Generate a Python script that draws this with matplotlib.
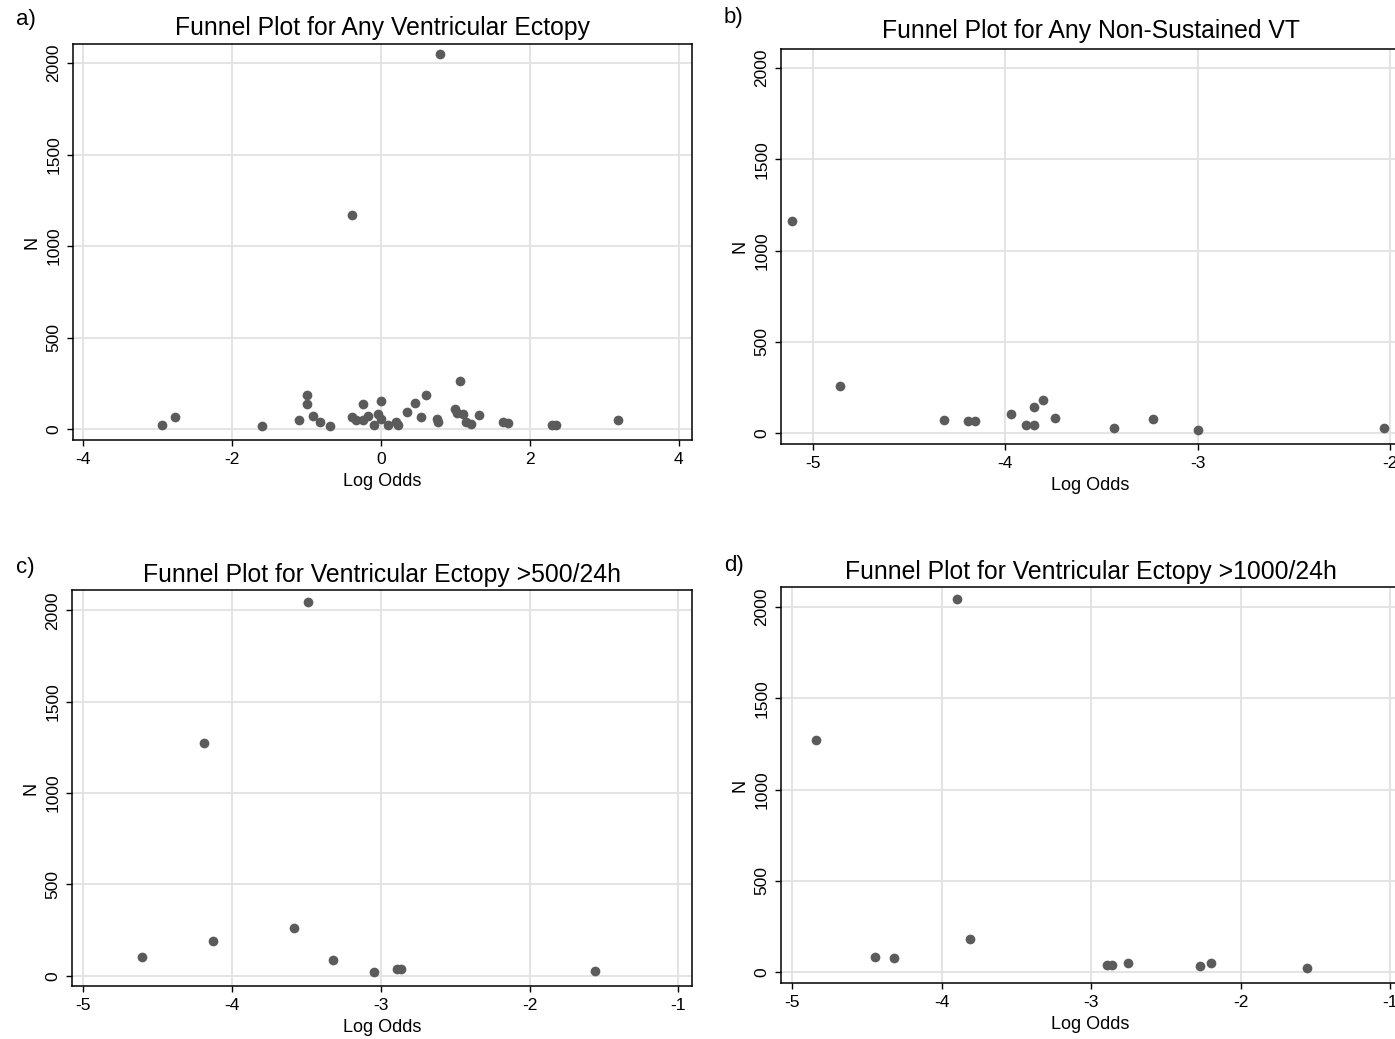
import matplotlib
matplotlib.use("Agg")
import matplotlib.pyplot as plt

plt.rcParams['font.family'] = ['Liberation Sans', 'DejaVu Sans']
plt.rcParams['axes.unicode_minus'] = False

# ---------------- data ----------------
a_logodds = [-2.94, -2.77, -1.60, -1.10, -1.00, -1.00, -0.91, -0.82, -0.69, -0.39,
             -0.34, -0.24, -0.24, -0.17, -0.04, 0.00, -0.10, 0.00, 0.10, 0.20,
             0.23, 0.35, 0.45, 0.54, 0.60, 0.75, 0.77, 1.00, 1.02, 1.06,
             1.10, 1.14, 1.21, 1.32, 1.64, 1.70, 2.30, 2.35, 3.18, 0.79, -0.39]
a_n = [20, 68, 18, 47, 188, 137, 69, 38, 16, 68,
       49, 135, 49, 71, 84, 153, 22, 53, 22, 40,
       20, 93, 144, 66, 184, 53, 38, 108, 86, 261,
       80, 38, 26, 77, 38, 33, 22, 22, 49, 2049, 1167]

b_logodds = [-5.108, -4.859, -4.317, -4.19, -4.157, -3.971, -3.89, -3.851, -3.851,
             -3.805, -3.739, -3.433, -3.232, -2.996, -2.03]
b_n = [1163, 259, 75, 66, 66, 108, 47, 142, 47, 183, 84, 31, 79, 20, 26]

c_logodds = [-3.486, -4.189, -4.605, -4.128, -3.585, -3.322, -3.043, -2.893, -2.866, -1.558]
c_n = [2047, 1273, 102, 190, 259, 88, 22, 38, 38, 26]

d_logodds = [-3.894, -4.84, -4.446, -4.318, -3.809, -2.895, -2.863, -2.751, -2.269,
             -2.199, -1.557]
d_n = [2047, 1273, 86, 77, 184, 38, 38, 51, 33, 51, 24]

titles = ["Funnel Plot for Any Ventricular Ectopy",
          "Funnel Plot for Any Non-Sustained VT",
          "Funnel Plot for Ventricular Ectopy >500/24h",
          "Funnel Plot for Ventricular Ectopy >1000/24h"]
letters = ["a)", "b)", "c)", "d)"]
x_ticks = [[-4, -2, 0, 2, 4], [-5, -4, -3, -2], [-5, -4, -3, -2, -1], [-5, -4, -3, -2, -1]]
y_ticks = [0, 500, 1000, 1500, 2000]
x_label = "Log Odds"
y_label = "N"

# ---------------- layout (pixels) ----------------
W, H = 1395, 1039
fig = plt.figure(figsize=(W / 100, H / 100), dpi=100)

# left, top, right, bottom in pixels
boxes = [(73, 44, 692, 440), (781, 49, 1400, 444), (72, 590, 692, 986), (781, 587, 1400, 983)]
xlims = [(-4.137, 4.177), (-5.164, -1.948), (-5.075, -0.908), (-5.074, -0.935)]
ylims = [(-60, 2104), (-59, 2104), (-56, 2112), (-59, 2110)]
title_base = [35, 38, 582, 579]
letter_pos = [(16, 20), (724, 18), (16, 567), (724, 565)]

datasets = [(a_logodds, a_n), (b_logodds, b_n), (c_logodds, c_n), (d_logodds, d_n)]

marker_color = "#5b5b5b"
grid_color = "#e2e2e2"

for i, (box, (xs, ys)) in enumerate(zip(boxes, datasets)):
    l, t, r, b = box
    ax = fig.add_axes([l / W, 1 - b / H, (r - l) / W, (b - t) / H])
    ax.set_xlim(*xlims[i])
    ax.set_ylim(*ylims[i])
    ax.set_xticks(x_ticks[i])
    ax.set_yticks(y_ticks)
    ax.grid(True, color=grid_color, linewidth=1.3)
    ax.set_axisbelow(True)
    ax.plot(xs, ys, 'o', color=marker_color, markersize=7, markeredgewidth=0, zorder=3)
    for s in ax.spines.values():
        s.set_linewidth(1.1)
        s.set_color("black")
    ax.tick_params(axis='both', direction='out', length=4.5, width=1.0,
                   labelsize=12.5, colors='black', pad=4)
    for lab in ax.get_yticklabels():
        lab.set_rotation(90)
        lab.set_va('center')
    ax.set_xlabel(x_label, fontsize=13, labelpad=4.5)
    ax.set_ylabel(y_label, fontsize=13, labelpad=4)
    fig.text(((l + r) / 2) / W, 1 - title_base[i] / H, titles[i], ha='center',
             va='baseline', fontsize=17.8)
    lx, ly = letter_pos[i]
    fig.text(lx / W, 1 - ly / H, letters[i], ha='left', va='center', fontsize=16)

fig.savefig("out.png", dpi=100)
